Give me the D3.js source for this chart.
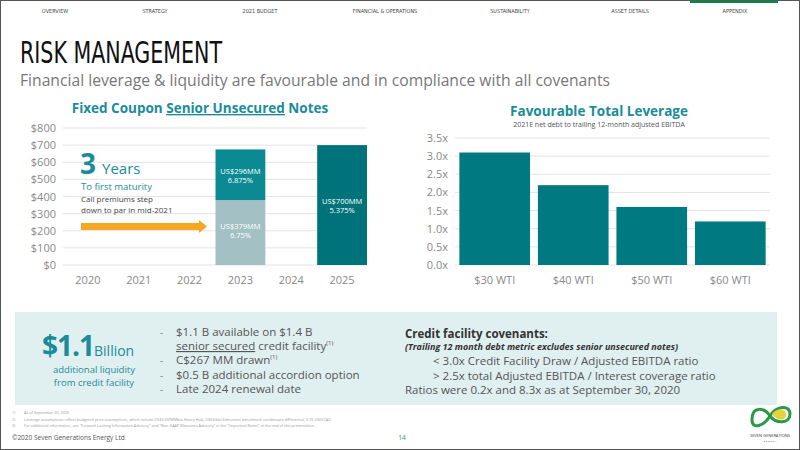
<!DOCTYPE html><html><head><meta charset="utf-8"><script src="https://cdn.jsdelivr.net/npm/d3@7"></script>
<style>body{margin:0}svg{display:block}</style></head><body>
<svg id="c" width="800" height="450"></svg>
<script>
const years=["2020","2021","2022","2023","2024","2025"];
const lowerNotes=[0,0,0,379,0,0];
const upperNotes=[0,0,0,296,0,700];
const lowerLabels=["","","","US$379MM|6.75%","",""];
const upperLabels=["","","","US$296MM|6.875%","","US$700MM|5.375%"];
const usdTicks=[0,100,200,300,400,500,600,700,800];
const wti=["$30 WTI","$40 WTI","$50 WTI","$60 WTI"];
const leverage=[3.1,2.2,1.6,1.2];
const levTicks=[0,0.5,1,1.5,2,2.5,3,3.5];
const nav=["OVERVIEW","STRATEGY","2021 BUDGET","FINANCIAL & OPERATIONS","SUSTAINABILITY","ASSET DETAILS","APPENDIX"];

const F="'Open Sans',sans-serif";
const teal="#1a8c99";
const svg=d3.select("#c");
function txt(x,y,s,size,fill,opts){
  const t=svg.append("text").attr("x",x).attr("y",y).attr("font-family",(opts&&opts.ff)||F).attr("font-size",size).attr("fill",fill).text(s);
  if(opts){
    if(opts.anchor)t.attr("text-anchor",opts.anchor);
    if(opts.weight)t.attr("font-weight",opts.weight);
    if(opts.style)t.attr("font-style",opts.style);
    if(opts.len)t.attr("textLength",opts.len).attr("lengthAdjust","spacingAndGlyphs");
  }
  return t;
}
svg.append("rect").attr("x",0.5).attr("y",0.5).attr("width",799).attr("height",449).attr("fill","#fff").attr("stroke","#555");
const navX=[55,155,260,385,510,630,735];
nav.forEach((n,i)=>txt(navX[i],13,n,5.5,"#444",{anchor:"middle",ff:"'DejaVu Sans Condensed',sans-serif"}));
svg.append("rect").attr("x",690).attr("y",0).attr("width",88).attr("height",3).attr("fill","#1f7a4a");
txt(20,63,"RISK MANAGEMENT",30,"#111",{ff:"'DejaVu Sans Condensed',sans-serif",len:202});
txt(20,86,"Financial leverage & liquidity are favourable and in compliance with all covenants",16.5,"#777",{len:590});

// Left chart
const lt=txt(200,113,"",13.5,teal,{anchor:"middle",weight:"bold"});
lt.append("tspan").text("Fixed Coupon ");
lt.append("tspan").attr("text-decoration","underline").text("Senior Unsecured");
lt.append("tspan").text(" Notes");

const xL=d3.scaleBand().domain(years).range([63,367]).paddingInner(0.02).paddingOuter(0);
const yL=d3.scaleLinear().domain([0,800]).range([265,128]);
const gL=svg.append("g");
gL.selectAll("line.g").data(usdTicks).join("line").attr("x1",63).attr("x2",367).attr("y1",d=>yL(d)).attr("y2",d=>yL(d)).attr("stroke","#e3e3e3");
gL.selectAll("text.y").data(usdTicks).join("text").attr("x",56).attr("y",d=>yL(d)+4).attr("text-anchor","end").attr("font-family",F).attr("font-size",11).attr("fill","#888").text(d=>"$"+d);
gL.selectAll("text.x").data(years).join("text").attr("x",d=>xL(d)+xL.bandwidth()/2).attr("y",284).attr("text-anchor","middle").attr("font-family",F).attr("font-size",11).attr("fill","#888").text(d=>d);
const bw=xL.bandwidth();
years.forEach((y,i)=>{
  const cx=xL(y)+bw/2;
  if(lowerNotes[i]>0){
    gL.append("rect").attr("x",xL(y)).attr("width",bw).attr("y",yL(lowerNotes[i])).attr("height",yL(0)-yL(lowerNotes[i])).attr("fill","#a3c0c5");
    const ly=lowerLabels[i].split("|"), mid=(yL(0)+yL(lowerNotes[i]))/2;
    ly.forEach((s,k)=>txt(cx,mid-4+k*9,s,7.5,"#fff",{anchor:"middle"}));
  }
  if(upperNotes[i]>0){
    const b=lowerNotes[i], top=b+upperNotes[i];
    gL.append("rect").attr("x",xL(y)).attr("width",bw).attr("y",yL(top)).attr("height",yL(b)-yL(top)).attr("fill",b>0?"#0b8a93":"#00737a");
    const ly=upperLabels[i].split("|"), mid=(yL(b)+yL(top))/2;
    ly.forEach((s,k)=>txt(cx,mid-1+k*9,s,7.5,"#fff",{anchor:"middle"}));
  }
});
txt(80,174,"3",28,teal,{weight:"bold"});
txt(102,174,"Years",15,teal);
txt(81,190,"To first maturity",9.5,teal);
txt(81,202,"Call premiums step",8,"#444");
txt(81,213,"down to par in mid-2021",8,"#444");
svg.append("rect").attr("x",81).attr("y",223).attr("width",120).attr("height",7).attr("fill","#f5a623");
svg.append("path").attr("d","M199,220 L207,226.5 L199,233 Z").attr("fill","#f5a623");

// Right chart
txt(599,116,"Favourable Total Leverage",13.5,teal,{anchor:"middle",weight:"bold"});
txt(599,127,"2021E net debt to trailing 12-month adjusted EBITDA",7,"#555",{anchor:"middle"});
const xR=d3.scaleBand().domain(wti).range([457,768]).paddingInner(0.1).paddingOuter(0.03);
const yR=d3.scaleLinear().domain([0,3.5]).range([265,138]);
const gR=svg.append("g");
gR.selectAll("line").data(levTicks).join("line").attr("x1",455).attr("x2",770).attr("y1",d=>yR(d)).attr("y2",d=>yR(d)).attr("stroke","#e3e3e3");
gR.selectAll("text.y").data(levTicks).join("text").attr("x",448).attr("y",d=>yR(d)+4).attr("text-anchor","end").attr("font-family",F).attr("font-size",11).attr("fill","#888").text(d=>d.toFixed(1)+"x");
gR.selectAll("rect").data(leverage).join("rect").attr("x",(d,i)=>xR(wti[i])).attr("width",xR.bandwidth()).attr("y",d=>yR(d)).attr("height",d=>yR(0)-yR(d)).attr("fill","#007a80");
gR.selectAll("text.x").data(wti).join("text").attr("x",d=>xR(d)+xR.bandwidth()/2).attr("y",284).attr("text-anchor","middle").attr("font-family",F).attr("font-size",11).attr("fill","#888").text(d=>d);

// Bottom panel
svg.append("rect").attr("x",15).attr("y",312).attr("width",762).attr("height",93).attr("fill","#e0eff0");
const big=txt(42,356,"",28,teal);
big.append("tspan").attr("font-weight","bold").attr("letter-spacing",-1).text("$1.1");
big.append("tspan").attr("font-size",14).text("Billion");
txt(94,373,"additional liquidity",9.5,teal,{anchor:"middle"});
txt(94,386,"from credit facility",9.5,teal,{anchor:"middle"});
txt(176,336,"$1.1 B available on $1.4 B",11.5,"#555");
const l2=txt(176,350,"",11.5,"#555");
l2.append("tspan").attr("text-decoration","underline").text("senior secured");
l2.append("tspan").text(" credit facility");
l2.append("tspan").attr("font-size",6).attr("dy",-5).text("(1)");
const l3=txt(176,364,"C$267 MM drawn",11.5,"#555");
l3.append("tspan").attr("font-size",6).attr("dy",-5).text("(1)");
txt(176,379,"$0.5 B additional accordion option",11.5,"#555");
txt(176,393,"Late 2024 renewal date",11.5,"#555");
[336,364,379,393].forEach(y=>txt(160,y,"-",10,"#888"));
txt(405,338,"Credit facility covenants:",11.5,"#333",{weight:"bold"});
txt(405,350,"(Trailing 12 month debt metric excludes senior unsecured notes)",9,"#333",{weight:"bold",style:"italic"});
txt(433,365,"< 3.0x Credit Facility Draw / Adjusted EBITDA ratio",11.5,"#555");
txt(433,380,"> 2.5x total Adjusted EBITDA / Interest coverage ratio",11.5,"#555");
txt(405,394,"Ratios were 0.2x and 8.3x as at September 30, 2020",11.5,"#555");

// Footer
const fn=["As of September 30, 2020","Leverage assumptions reflect budgeted price assumptions, which include US$3.00/MMbtu Henry Hub, US$3/bbl Edmonton benchmark condensate differential, 0.76 USD/CAD","For additional information, see \"Forward-Looking Information Advisory\" and \"Non-GAAP Measures Advisory\" in the \"Important Notes\" at the end of this presentation."];
fn.forEach((s,i)=>{txt(12,414+i*6.5,(i+1)+")",3.8,"#999");txt(24,414+i*6.5,s,3.8,"#999");});
txt(12,440,"©2020 Seven Generations Energy Ltd",6.5,"#555");
txt(402,440,"14",6.5,"#2a9a4a",{anchor:"middle"});
svg.append("path").attr("d","M752,420 C752,405 765,408 770,416 C776,424 790,424 790,414 C790,404 776,406 770,416 C764,426 752,430 752,420 Z").attr("fill","none").attr("stroke","#2a9a4a").attr("stroke-width",3);
svg.append("path").attr("d","M772,414 C778,406 788,410 786,416 C784,422 776,420 772,414 Z").attr("fill","#e8d23a");
txt(770,437,"SEVEN GENERATIONS",4,"#333",{anchor:"middle"});
txt(770,442,"E N E R G Y",2.5,"#333",{anchor:"middle"});
</script></body></html>
